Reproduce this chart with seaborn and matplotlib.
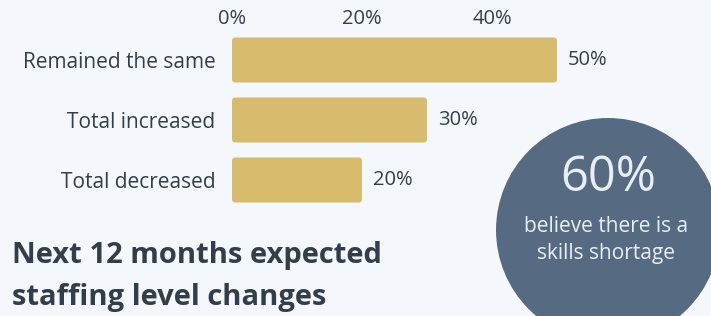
import matplotlib

matplotlib.use("Agg")
import matplotlib.pyplot as plt
import pandas as pd
import seaborn as sns
from matplotlib.patches import Circle, FancyBboxPatch

categories = ["Remained the same", "Total increased", "Total decreased"]
shares = [50, 30, 20]
tick_values = [0, 20, 40]
tick_labels = ["0%", "20%", "40%"]
callout_value = "60%"
callout_lines = ["believe there is a", "skills shortage"]
title_lines = ["Next 12 months expected", "staffing level changes"]

BG = "#f4f7fb"
BAR = "#d8bc6e"
TEXT = "#343e4a"
CIRCLE = "#566b82"
LIGHT = "#e8eef5"

sns.set_theme(style="white")
plt.rcParams["font.family"] = ["Open Sans", "DejaVu Sans"]

df = pd.DataFrame({"category": categories, "share": shares})

W, H = 711, 316
fig = plt.figure(figsize=(W / 100, H / 100), dpi=100, facecolor=BG)

# callout circle sits behind everything else
circ = Circle((6.08, (H - 230) / 100), 1.12, transform=fig.dpi_scale_trans,
              facecolor=CIRCLE, edgecolor="none", zorder=0)
fig.add_artist(circ)

ax = fig.add_axes([232 / W, (H - 210) / H, 325 / W, 180 / H])
ax.patch.set_visible(False)

sns.barplot(data=df, x="share", y="category", orient="h", color=BAR,
            width=0.75, saturation=1, ax=ax)

# swap the square bars for slightly rounded ones
for p in list(ax.patches):
    rounded = FancyBboxPatch((p.get_x(), p.get_y()), p.get_width(), p.get_height(),
                             boxstyle="round,pad=0,rounding_size=0.5",
                             mutation_aspect=6.5 / 60, facecolor=BAR,
                             edgecolor="none")
    p.remove()
    ax.add_patch(rounded)

ax.set_xlim(0, 50)
ax.set_ylim(2.5, -0.5)
ax.set_xlabel("")
ax.set_ylabel("")
ax.xaxis.tick_top()
ax.set_xticks(tick_values)
ax.set_xticklabels(tick_labels, fontsize=14.5, color=TEXT)
ax.tick_params(axis="x", length=0, pad=1)
ax.tick_params(axis="y", length=0, pad=12, labelsize=15, labelcolor=TEXT)
for s in ax.spines.values():
    s.set_visible(False)

for i, v in enumerate(shares):
    ax.text(v + 1.7, i, f"{v}%", va="center", ha="left", fontsize=14.5,
            color=TEXT, clip_on=False)

for line, y in zip(title_lines, [255, 297]):
    fig.text(12 / W, (H - y) / H, line, fontsize=21, fontweight="bold",
             color=TEXT, va="center", ha="left")

fig.text(608 / W, (H - 178) / H, callout_value, fontsize=35, color=LIGHT,
         ha="center", va="center")
for line, y in zip(callout_lines, [227, 253]):
    fig.text(606 / W, (H - y) / H, line, fontsize=15, color=LIGHT,
             ha="center", va="center")

fig.savefig("out.png", dpi=100, facecolor=BG)
